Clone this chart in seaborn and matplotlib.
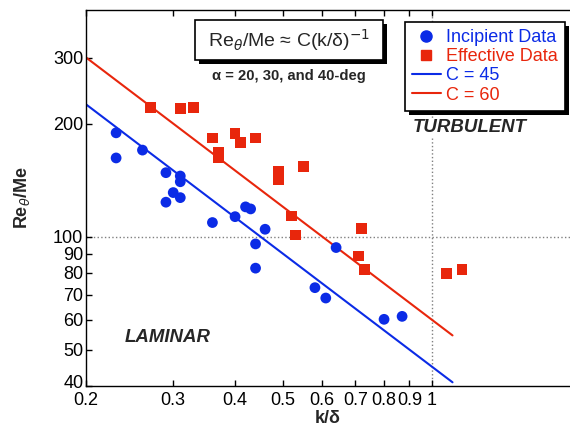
import numpy as np
import pandas as pd
import matplotlib
matplotlib.use("Agg")
import matplotlib.pyplot as plt
import matplotlib.patheffects as pe
import matplotlib.transforms as mtransforms
from matplotlib.patches import Rectangle
from matplotlib.lines import Line2D
import seaborn as sns

# Incipient data (blue circles)
inc_k = [0.23, 0.23, 0.26, 0.29, 0.31, 0.31, 0.30, 0.31, 0.29, 0.42, 0.43,
         0.36, 0.40, 0.46, 0.44, 0.44, 0.64, 0.58, 0.61, 0.80, 0.87]
inc_re = [189, 162, 170, 148, 145, 140, 131, 127, 123.5, 120, 118.5,
          109, 113, 104.6, 95.6, 82.4, 93.5, 73.1, 68.6, 60.2, 61.3]

# Effective data (red squares)
eff_k = [0.27, 0.31, 0.33, 0.36, 0.40, 0.41, 0.44, 0.37, 0.37, 0.49, 0.49,
         0.55, 0.52, 0.53, 0.72, 0.71, 0.73, 1.07, 1.15]
eff_re = [221, 219, 221, 183, 188, 178, 183, 168, 162, 149, 142,
          154, 113.5, 101, 105, 88.8, 81.9, 79.9, 81.9]

# Fit lines Re/Me = C (k/delta)^-1
fit_k = [0.2, 1.1]
C_inc = 45
C_eff = 60

blue = "#0b2be6"
red = "#e8260c"

sns.set_style("white")
plt.rcParams["font.family"] = ["Liberation Sans", "DejaVu Sans"]

fig = plt.figure(figsize=(5.7, 4.26), dpi=100)
ax = fig.add_axes([0.151, 0.094, 0.849, 0.883])

df_inc = pd.DataFrame({"k": inc_k, "re": inc_re})
df_eff = pd.DataFrame({"k": eff_k, "re": eff_re})
df_fit = pd.DataFrame({
    "k": fit_k * 2,
    "re": [C_inc / k for k in fit_k] + [C_eff / k for k in fit_k],
    "C": ["C = 45"] * 2 + ["C = 60"] * 2,
})

ax.set_xscale("log")
ax.set_yscale("log")

ax.axhline(100, color="gray", ls=":", lw=1, zorder=0)
ax.axvline(1, color="gray", ls=":", lw=1, zorder=0)

sns.lineplot(data=df_fit, x="k", y="re", hue="C", palette=[blue, red],
             lw=1.5, legend=False, ax=ax)
sns.scatterplot(data=df_inc, x="k", y="re", color=blue, marker="o", s=60,
                edgecolor="none", ax=ax, zorder=3)
sns.scatterplot(data=df_eff, x="k", y="re", color=red, marker="s", s=60,
                edgecolor="none", ax=ax, zorder=3)

ax.set_xlim(0.2, 1.9)
ax.set_ylim(40, 402)

xt = [0.2, 0.3, 0.4, 0.5, 0.6, 0.7, 0.8, 0.9, 1]
ax.set_xticks(xt)
ax.set_xticklabels(["0.2", "0.3", "0.4", "0.5", "0.6", "0.7", "0.8", "0.9", "1"])
yt = [40, 50, 60, 70, 80, 90, 100, 200, 300]
ax.set_yticks(yt)
ax.set_yticklabels([str(v) for v in yt])
ax.minorticks_off()
ax.tick_params(axis="both", direction="in", length=4, width=1, labelsize=13,
               colors="black", top=True, bottom=True, left=True, right=False, pad=2)
ax.tick_params(axis="x", pad=4)
for s in ["left", "bottom", "top"]:
    ax.spines[s].set_color("black")
    ax.spines[s].set_linewidth(1)
ax.spines["right"].set_visible(False)

# nudge the "40" label up a little so it clears "0.2"
lbl40 = ax.get_yticklabels()[0]
lbl40.set_transform(lbl40.get_transform() +
                    mtransforms.ScaledTranslation(0, 3 / 72, fig.dpi_scale_trans))

ax.set_xlabel("k/δ", fontsize=13, fontweight="bold", labelpad=1)
ax.set_ylabel(r"Re$_{\theta}$/Me", fontsize=13, fontweight="bold", labelpad=15)

shadow = [pe.SimplePatchShadow(offset=(3, -3), shadow_rgbFace="black", alpha=1),
          pe.Normal()]

# equation box
box = Rectangle((0.225, 0.867), 0.388, 0.106, transform=ax.transAxes,
                fc="white", ec="black", lw=1.2, zorder=4)
box.set_path_effects(shadow)
ax.add_patch(box)
ax.text(0.419, 0.92, r"Re$_\theta$/Me ≈ C(k/δ)$^{-1}$", transform=ax.transAxes,
        ha="center", va="center", fontsize=14, zorder=5)
ax.text(0.42, 0.824, "α = 20, 30, and 40-deg", transform=ax.transAxes,
        ha="center", va="center", fontsize=10.6, fontweight="bold")

ax.text(0.793, 0.686, "TURBULENT", transform=ax.transAxes, ha="center",
        va="center", fontsize=13.4, fontweight="bold", style="italic",
        bbox=dict(fc="white", ec="none", pad=1))
ax.text(0.168, 0.13, "LAMINAR", transform=ax.transAxes, ha="center",
        va="center", fontsize=13.4, fontweight="bold", style="italic")

handles = [
    Line2D([], [], ls="none", marker="o", color=blue, markersize=8),
    Line2D([], [], ls="none", marker="s", color=red, markersize=7),
    Line2D([], [], color=blue, lw=1.5),
    Line2D([], [], color=red, lw=1.5),
]
labels = ["Incipient Data", "Effective Data", "C = 45", "C = 60"]
leg = ax.legend(handles, labels, loc="upper right", bbox_to_anchor=(0.99, 0.968),
                fontsize=13, frameon=True, fancybox=False, shadow=False,
                framealpha=1, facecolor="white",
                edgecolor="black", labelcolor=[blue, red, blue, red],
                handlelength=1.6, handletextpad=0.3, labelspacing=0.12,
                borderpad=0.4, borderaxespad=0)
leg.get_frame().set_linewidth(1.2)
leg.get_frame().set_path_effects(shadow)
leg.set_zorder(6)

fig.savefig("out.png", dpi=100)
